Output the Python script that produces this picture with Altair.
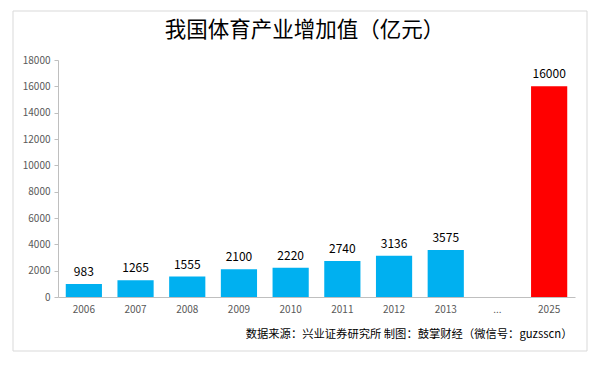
import altair as alt
import pandas as pd

categories = ["2006", "2007", "2008", "2009", "2010", "2011", "2012", "2013", "...", "2025"]
values = [983, 1265, 1555, 2100, 2220, 2740, 3136, 3575, None, 16000]
y_ticks = [0, 2000, 4000, 6000, 8000, 10000, 12000, 14000, 16000, 18000]
title_text = "我国体育产业增加值（亿元）"
footer_text = "数据来源：兴业证券研究所  制图：鼓掌财经（微信号：guzsscn）"

df = pd.DataFrame({"year": categories, "value": values})

FONT = "Noto Sans CJK SC"
W, H = 517, 237

x_axis = alt.Axis(
    title=footer_text,
    titleFont=FONT,
    titleFontSize=11.3,
    titleFontWeight="normal",
    titleColor="#000000",
    titleAlign="right",
    titleBaseline="middle",
    titleX=514,
    titleY=37,
    labelAngle=0,
    labelFontSize=10,
    labelColor="#595959",
    labelPadding=7,
    ticks=False,
    domainColor="#bfbfbf",
)

y_axis = alt.Axis(
    title=None,
    values=y_ticks,
    format="d",
    grid=False,
    labelOverlap=False,
    labelFlush=False,
    labelFontSize=10,
    labelColor="#595959",
    labelPadding=4,
    tickSize=4,
    tickColor="#bfbfbf",
    domainColor="#bfbfbf",
)

x_scale = alt.Scale(paddingInner=0.3, paddingOuter=0.15)
y_scale = alt.Scale(domain=[0, 18000], nice=False)

frame = alt.Chart(pd.DataFrame({"a": [0]})).mark_rect(
    fill=None, stroke="#d9d9d9", strokeWidth=1
).encode(
    x=alt.value(-45), x2=alt.value(529), y=alt.value(-49), y2=alt.value(291)
)

bars = alt.Chart(df).mark_bar().encode(
    x=alt.X("year:N", sort=categories, scale=x_scale, axis=x_axis),
    y=alt.Y("value:Q", scale=y_scale, axis=y_axis),
    color=alt.condition(
        alt.datum.year == "2025", alt.value("#FF0000"), alt.value("#00B0F0")
    ),
)

labels = alt.Chart(df).transform_filter("datum.value != null").mark_text(
    baseline="bottom", dy=-5, fontSize=12, font=FONT, color="#000000"
).encode(
    x=alt.X("year:N", sort=categories, scale=x_scale, axis=x_axis),
    y=alt.Y("value:Q", scale=y_scale, axis=y_axis),
    text=alt.Text("value:Q", format="d"),
)

chart = alt.layer(frame, bars, labels).properties(
    width=W,
    height=H,
    title=alt.Title(
        title_text,
        font=FONT,
        fontSize=21.5,
        fontWeight="normal",
        color="#000000",
        anchor="middle",
        frame="group",
        dx=-12,
        offset=-31,
    ),
    autosize=alt.AutoSizeParams(type="none"),
    padding={"left": 50, "top": 52, "right": 17, "bottom": 61},
    background="white",
).configure_view(stroke=None).configure_axis(labelFont=FONT)

chart.save("out.html", embed_options={"renderer": "svg", "actions": False})
